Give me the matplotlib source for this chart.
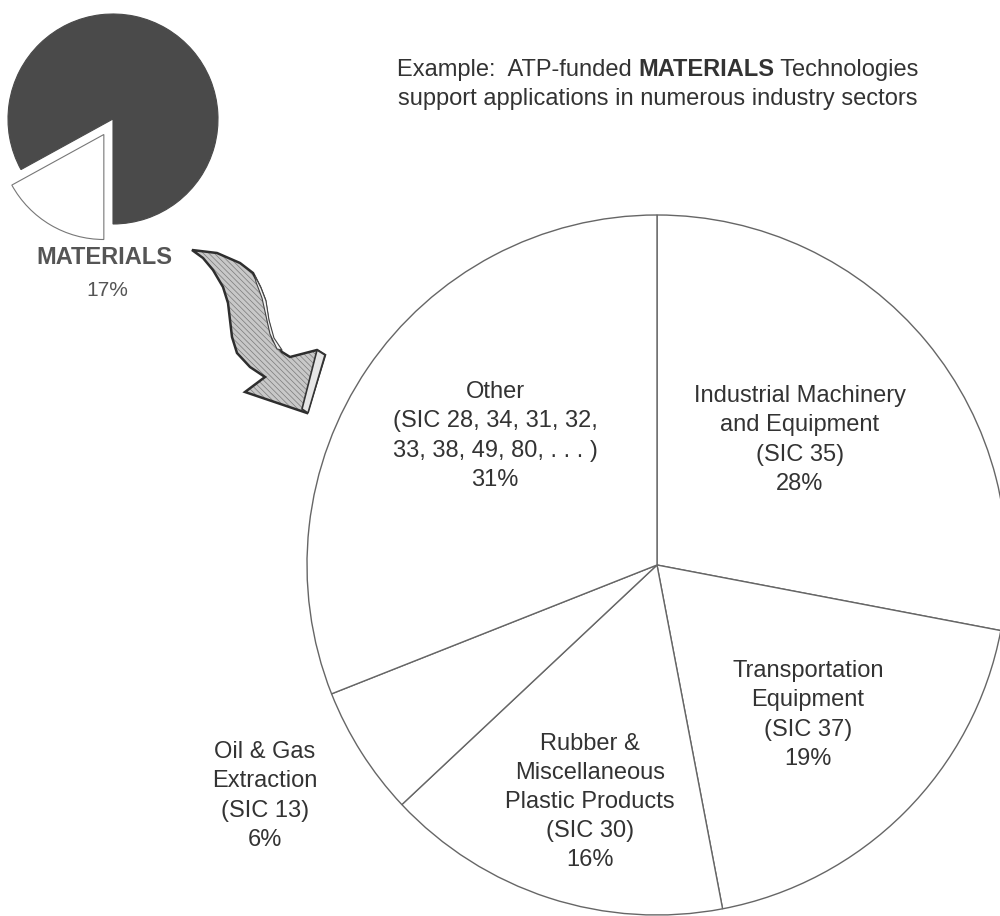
import matplotlib
matplotlib.use("Agg")
import matplotlib.pyplot as plt
from matplotlib.patches import Polygon

plt.rcParams['font.family'] = ['Liberation Sans', 'DejaVu Sans']
plt.rcParams['hatch.linewidth'] = 0.5

# Industry-sector breakdown of MATERIALS technologies
sectors = [
    "Industrial Machinery\nand Equipment\n(SIC 35)",
    "Transportation\nEquipment\n(SIC 37)",
    "Rubber &\nMiscellaneous\nPlastic Products\n(SIC 30)",
    "Oil & Gas\nExtraction\n(SIC 13)",
    "Other\n(SIC 28, 34, 31, 32,\n33, 38, 49, 80, . . . )",
]
shares = [28, 19, 16, 6, 31]

# Label anchor points (pixel space, y measured from top)
label_x = [800, 808, 590, 265, 495]
label_y = [440, 715, 802, 796, 436]

# Overall technology-area split
area_shares = [17, 83]
area_label = "MATERIALS"

W, H = 1000, 916
fig = plt.figure(figsize=(W / 100, H / 100), dpi=100)
ax = fig.add_axes([0, 0, 1, 1])


def fy(y):
    return H - y


TEXT = '#333333'

# Small overview pie
ax.pie(area_shares, startangle=-90, counterclock=False,
       center=(113, fy(119)), radius=105, explode=[18, 0],
       colors=['white', '#4a4a4a'],
       wedgeprops=dict(linewidth=0.8), frame=True)
wedges = list(ax.patches)
wedges[0].set_edgecolor('#777777')
wedges[1].set_edgecolor('#4a4a4a')

ax.text(104, fy(258), area_label, ha='center', va='center', fontsize=17,
        fontweight='bold', color='#555555')
ax.text(107, fy(290), f"{area_shares[0]}%", ha='center', va='center',
        fontsize=15, color='#555555')

# Main sector pie
ax.pie(shares, startangle=90, counterclock=False, center=(657, fy(565)),
       radius=350, colors=['white'] * len(shares),
       wedgeprops=dict(edgecolor='#666666', linewidth=1.0), frame=True)

for name, s, lx, ly in zip(sectors, shares, label_x, label_y):
    ax.text(lx, fy(ly), f"{name}\n{s}%", ha='center', va='center',
            fontsize=17, color=TEXT, linespacing=1.42)

# Curved arrow linking the overview to the breakdown
body = [(192, 250), (217, 253), (240, 263), (253, 273), (260, 287),
        (265, 300), (268, 320), (273, 340), (282, 352), (290, 357),
        (317, 350), (325, 355), (307, 413), (245, 392), (265, 377),
        (250, 367), (237, 353), (232, 337), (230, 320), (228, 303),
        (223, 287), (213, 270), (203, 258)]
side = [(255, 276), (261, 288), (266, 301), (269, 320), (274, 338),
        (282, 350), (277, 349), (270, 334), (266, 316), (262, 298),
        (256, 282)]
head_side = [(317, 350), (325, 355), (308, 413), (302, 409)]

body_xy = [(x, fy(y)) for x, y in body]
ax.add_patch(Polygon(body_xy, closed=True, facecolor='#c8c8c8',
                     edgecolor='#7a7a7a', hatch='\\\\\\\\\\\\',
                     linewidth=0, zorder=3))
ax.add_patch(Polygon(body_xy, closed=True, facecolor='none',
                     edgecolor='#2e2e2e', linewidth=1.8, zorder=4))
ax.add_patch(Polygon([(x, fy(y)) for x, y in side], closed=True,
                     facecolor='#f4f4f4', edgecolor='#444444',
                     linewidth=0.8, zorder=5))
ax.add_patch(Polygon([(x, fy(y)) for x, y in head_side], closed=True,
                     facecolor='#e6e6e6', edgecolor='#333333',
                     linewidth=1.2, zorder=5))

ax.set_xlim(0, W)
ax.set_ylim(0, H)
ax.set_aspect('equal')
ax.axis('off')

# Heading with a bold keyword
fig.canvas.draw()
renderer = fig.canvas.get_renderer()
parts = [("Example:  ATP-funded ", 'normal'), ("MATERIALS", 'bold'),
         (" Technologies", 'normal')]
texts = [ax.text(0, fy(70), s, ha='left', va='center', fontsize=17,
                 fontweight=w, color=TEXT) for s, w in parts]
inv = ax.transData.inverted()
widths = []
for t in texts:
    bb = t.get_window_extent(renderer)
    widths.append(inv.transform((bb.x1, bb.y0))[0]
                  - inv.transform((bb.x0, bb.y0))[0])
x = 658 - sum(widths) / 2
for t, w in zip(texts, widths):
    t.set_x(x)
    x += w
ax.text(658, fy(99), "support applications in numerous industry sectors",
        ha='center', va='center', fontsize=17, color=TEXT)

fig.savefig("out.png", dpi=100, facecolor='white')
